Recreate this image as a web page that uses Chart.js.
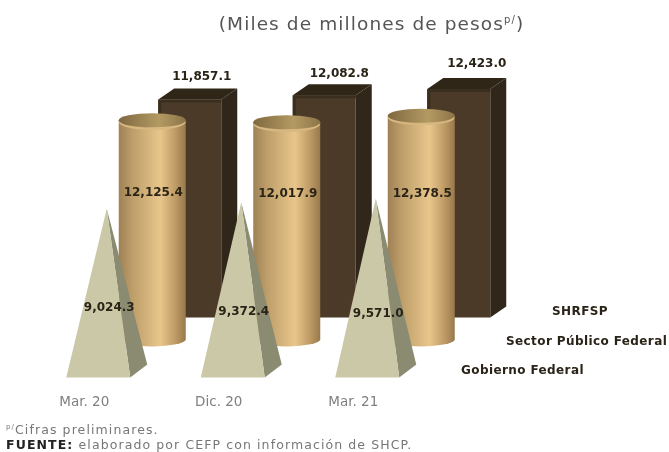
<!DOCTYPE html>
<html>
<head>
<meta charset="utf-8">
<script src="https://cdn.jsdelivr.net/npm/chart.js@4"></script>
<style>
html, body { margin: 0; padding: 0; background: #fff; }
#wrap { position: relative; width: 669px; height: 452px; overflow: hidden; font-family: "DejaVu Sans", sans-serif; filter: blur(0.5px); }
#title { position: absolute; left: 0; top: 13px; width: 743px; text-align: center; font-size: 18.5px; letter-spacing: 1.1px; color: #555; }
#title sup { font-size: 10px; line-height: 0; }
#note { position: absolute; left: 6px; top: 422px; font-size: 12.5px; line-height: 15px; letter-spacing: 1.1px; color: #777; white-space: nowrap; }
#note sup { font-size: 7px; line-height: 0; }
#note b { color: #222; }
</style>
</head>
<body>
<div id="wrap">
  <canvas id="myChart" width="669" height="452"></canvas>
  <div id="title">(Miles de millones de pesos<sup>p/</sup>)</div>
  <div id="note"><sup>p/</sup>Cifras preliminares.<br><b>FUENTE:</b> elaborado por CEFP con información de SHCP.</div>
</div>
<script>
var categories = ["Mar. 20", "Dic. 20", "Mar. 21"];
var gobiernoFederal = [9024.3, 9372.4, 9571.0];
var sectorPublico = [12125.4, 12017.9, 12378.5];
var shrfsp = [11857.1, 12082.8, 12423.0];

// where each solid sits in the fake 3D depth
var layers = {
    pyramid: { dx: 14, dy: 0, legendX: 461, legendY: 371 },
    cylinder: { dx: 68, dy: -38, legendX: 506, legendY: 342 },
    box: { dx: 105.5, dy: -60, legendX: 552, legendY: 312 }
};
var pyramidLabelY = [308, 312, 314];
var cylinderLabelY = [193, 194, 194];
var boxLabelLift = [23, 21, 25];

function fmt(v) {
    return v.toLocaleString("en-US", { minimumFractionDigits: 1, maximumFractionDigits: 1 });
}

function poly(ctx, pts, fill) {
    ctx.beginPath();
    ctx.moveTo(pts[0][0], pts[0][1]);
    for (var i = 1; i < pts.length; i++) ctx.lineTo(pts[i][0], pts[i][1]);
    ctx.closePath();
    ctx.fillStyle = fill;
    ctx.fill();
}

function drawPyramid(ctx, bar) {
    var l = layers.pyramid;
    var cx = bar.x + l.dx, hw = bar.width / 2, b = bar.base + l.dy, top = bar.y + l.dy;
    var apex = [cx + 8.5, top];
    poly(ctx, [apex, [cx + hw, b], [cx + hw + 17, b - 13]], "#8b8b72");
    poly(ctx, [apex, [cx - hw, b], [cx + hw, b]], "#cbc8a7");
}

function drawCylinder(ctx, bar) {
    var l = layers.cylinder;
    var cx = bar.x + l.dx, hw = bar.width / 2, b = bar.base + l.dy, top = bar.y + l.dy, ry = 7;
    var g = ctx.createLinearGradient(cx - hw, 0, cx + hw, 0);
    g.addColorStop(0, "#9f8155");
    g.addColorStop(0.2, "#bd9d69");
    g.addColorStop(0.62, "#e8c68b");
    g.addColorStop(0.85, "#bd9a64");
    g.addColorStop(1, "#98794c");
    ctx.beginPath();
    ctx.moveTo(cx - hw, top);
    ctx.lineTo(cx - hw, b);
    ctx.ellipse(cx, b, hw, ry, 0, Math.PI, 0, true);
    ctx.lineTo(cx + hw, top);
    ctx.closePath();
    ctx.fillStyle = g;
    ctx.fill();
    // light rim under the lid
    ctx.beginPath();
    ctx.ellipse(cx, top + 1.5, hw - 1, ry, 0, 0, Math.PI);
    ctx.strokeStyle = "#d6b880";
    ctx.lineWidth = 2;
    ctx.stroke();
    var t = ctx.createLinearGradient(cx - hw, 0, cx + hw, 0);
    t.addColorStop(0, "#7f683f");
    t.addColorStop(0.6, "#b39a63");
    t.addColorStop(1, "#8d7448");
    ctx.beginPath();
    ctx.ellipse(cx, top, hw, ry, 0, 0, Math.PI * 2);
    ctx.fillStyle = t;
    ctx.fill();
}

function drawBox(ctx, bar) {
    var l = layers.box;
    var cx = bar.x + l.dx, hw = bar.width / 2, b = bar.base + l.dy, top = bar.y + l.dy;
    var dx = 16, dy = -11;
    poly(ctx, [[cx - hw, top], [cx - hw + dx, top + dy], [cx + hw + dx, top + dy], [cx + hw, top]], "#2f2617");
    poly(ctx, [[cx + hw, top], [cx + hw + dx, top + dy], [cx + hw + dx, b + dy], [cx + hw, b]], "#30271a");
    poly(ctx, [[cx - hw, top], [cx + hw, top], [cx + hw, b], [cx - hw, b]], "#4b3a27");
    // darker bevel along the left and top edges
    poly(ctx, [[cx - hw, top], [cx - hw + 3, top + 3], [cx - hw + 3, b], [cx - hw, b]], "#3a2e1e");
    poly(ctx, [[cx - hw, top], [cx + hw, top], [cx + hw, top + 3], [cx - hw + 3, top + 3]], "#3a2e1e");
}

var solids = {
    pyramid: drawPyramid,
    cylinder: drawCylinder,
    box: drawBox
};

var solidsPlugin = {
    id: "solids",
    // the bars keep their scale geometry, only the painting is swapped
    beforeDatasetDraw: function (chart, args) {
        var ds = chart.data.datasets[args.index];
        args.meta.data.forEach(function (bar) {
            solids[ds.solid](chart.ctx, bar);
        });
        return false;
    },
    afterDatasetsDraw: function (chart) {
        var ctx = chart.ctx;
        ctx.save();
        ctx.textAlign = "center";
        ctx.textBaseline = "middle";
        ctx.fillStyle = "#2a2418";
        ctx.font = "bold 12px 'DejaVu Sans', sans-serif";
        chart.data.datasets.forEach(function (ds, d) {
            var meta = chart.getDatasetMeta(d);
            var l = layers[ds.solid];
            meta.data.forEach(function (bar, i) {
                var x = bar.x + l.dx, y;
                if (ds.solid == "pyramid") { x += 11; y = pyramidLabelY[i]; }
                else if (ds.solid == "cylinder") { x += 1; y = cylinderLabelY[i]; }
                else { x += 12 + i * 3; y = bar.y + l.dy - boxLabelLift[i]; }
                ctx.fillText(fmt(ds.data[i]), x, y);
            });
        });
        // series names stand at the end of each row of solids
        ctx.textAlign = "left";
        ctx.letterSpacing = "0.4px";
        chart.data.datasets.forEach(function (ds) {
            var l = layers[ds.solid];
            ctx.fillText(ds.label, l.legendX, l.legendY);
        });
        ctx.restore();
    }
};

var data = {
    labels: categories,
    datasets: [
        { label: "Gobierno Federal", solid: "pyramid", data: gobiernoFederal, yAxisID: "yPyramid", barThickness: 64 },
        { label: "Sector Público Federal", solid: "cylinder", data: sectorPublico, yAxisID: "yCylinder", barThickness: 67 },
        { label: "SHRFSP", solid: "box", data: shrfsp, yAxisID: "yBox", barThickness: 63 }
    ]
};

var ctx = document.getElementById("myChart").getContext("2d");
var myChart = new Chart(ctx, {
    type: "bar",
    data: data,
    plugins: [solidsPlugin],
    options: {
        responsive: false,
        animation: false,
        grouped: false,
        layout: { padding: { left: 17, right: 248.5, top: 30, bottom: 32.4 } },
        plugins: {
            legend: { display: false },
            tooltip: { enabled: false }
        },
        scales: {
            x: {
                grid: { display: false },
                border: { display: false },
                ticks: { color: "#808080", font: { family: "DejaVu Sans", size: 13.5 }, padding: 9, maxRotation: 0 }
            },
            yPyramid: { display: false, min: 0, max: 18600 },
            yCylinder: { display: false, min: 0, max: 19222 },
            yBox: { display: false, min: 0, max: 18900 }
        }
    }
});
</script>
</body>
</html>
